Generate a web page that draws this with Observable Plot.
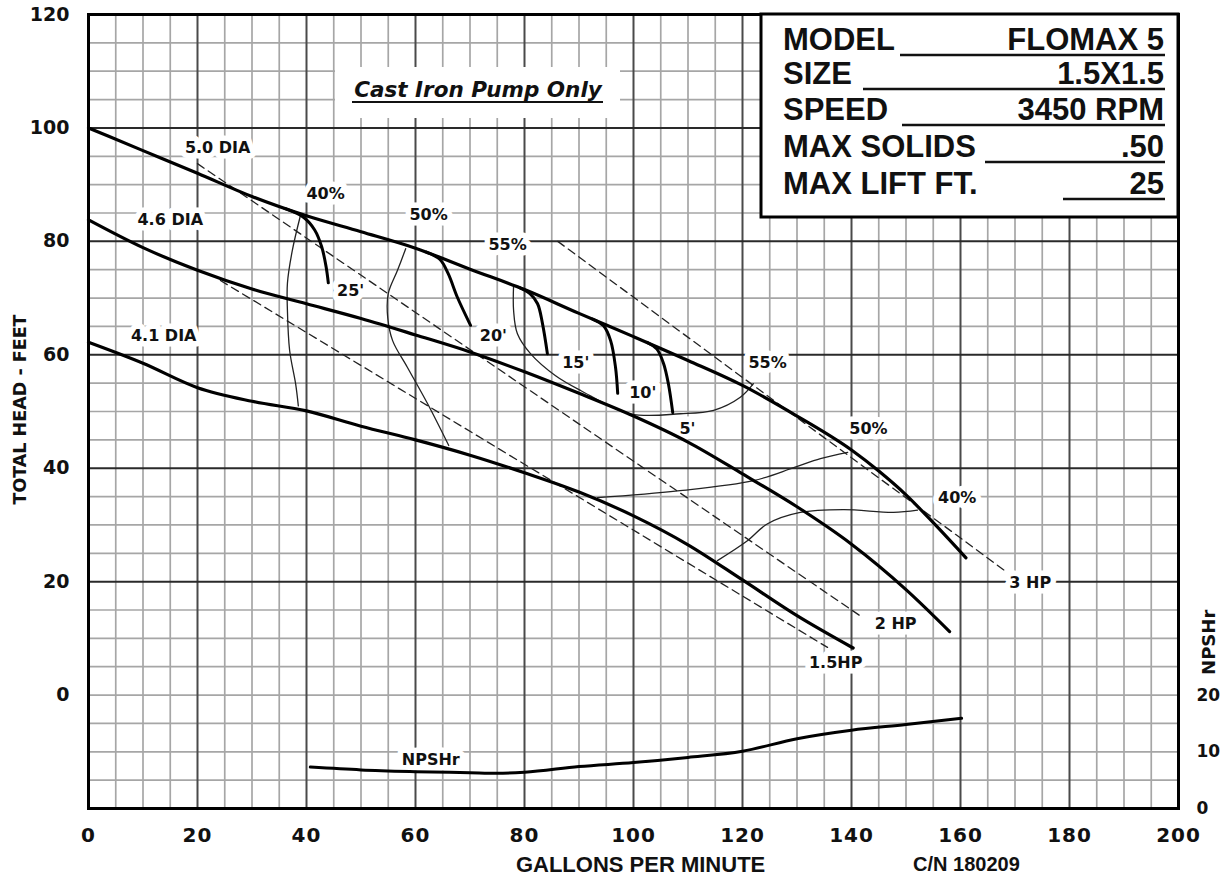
<!DOCTYPE html>
<html><head><meta charset="utf-8">
<script src="https://cdn.jsdelivr.net/npm/d3@7"></script>
<script src="https://cdn.jsdelivr.net/npm/@observablehq/plot@0.6"></script>
<style>
body{margin:0;background:#fff;}
#wrap{position:relative;width:1232px;height:879px;}
#wrap > svg{position:absolute;left:0;top:0;}
</style></head><body><div id="wrap"></div>
<script>
// ---- Impeller head curves (GPM vs total head, ft)
const dia50Gpm  = [0,10,20,30,40,50,60,70,80,90,100,110,120,130,140,145,150,155,161];
const dia50Head = [100,96,92,87.9,84.5,81.7,78.8,75.1,71.5,67.3,63.2,59.0,54.6,49.2,43.2,39.5,35.3,30.4,24.2];
const dia46Gpm  = [0,10,20,30,40,50,60,70,80,90,100,110,120,130,140,150,158];
const dia46Head = [83.8,78.9,74.9,71.6,69.0,66.4,63.5,60.5,57.0,53.2,49.2,44.6,39.0,33.2,26.6,18.6,11.2];
const dia41Gpm  = [0,10,20,30,40,50,60,70,80,90,100,110,120,130,140.3];
const dia41Head = [62.2,58.5,54.2,51.8,50.1,47.4,45.0,42.3,39.2,35.8,31.6,26.5,20.3,14.0,8.3];

// ---- NPSHr (ft, right axis)
const npshGpm = [40.7,50,60,70,75,80,90,100,110,120,130,140,150,160.2];
const npshFt  = [7.3,6.8,6.5,6.3,6.2,6.4,7.4,8.1,9.0,10.1,12.3,13.8,14.8,15.9];

// ---- Horsepower lines (dashed)
const hp3Gpm  = [86.1,168.6];  const hp3Head  = [80.0,21.6];
const hp2Gpm  = [20,142];      const hp2Head  = [93.7,13.7];
const hp15Gpm = [24.2,135.6];  const hp15Head = [73.1,8.4];

// ---- Efficiency contours (thin)
const eff40aGpm  = [38.9,37.4,36.5,36.5,36.9,38.0,38.5];
const eff40aHead = [84.6,78.4,72.6,67.8,60.8,54.9,51.0];
const eff50aGpm  = [58.2,56.7,55.0,54.9,55.8,58.5,62.2,66.1];
const eff50aHead = [78.7,74.9,70.8,66.6,62.5,57.8,51.4,44.0];
const eff55Gpm   = [78.0,78.0,78.7,81.1,85.7,90.3,99.4,108.6,114.7,119.6,122.0];
const eff55Head  = [72.3,67.8,63.7,60.2,56.3,53.7,49.6,49.6,50.2,52.5,54.9];
const eff50bGpm  = [93.4,108.1,122.0,129.4,134.3,139.3];
const eff50bHead = [34.8,36.0,37.8,40.1,41.7,42.8];
const eff40bGpm  = [115.4,120.9,124.6,130.6,138.5,147.7,152.1];
const eff40bHead = [23.7,27.2,30.2,32.2,32.7,32.2,32.6];

// ---- Suction lift hooks (thick)
const lift25Gpm = [36.0,39.5,41.5,42.8,43.6,44.0];  const lift25Head = [85.8,84.2,82.0,79.0,75.5,72.7];
const lift20Gpm = [62.0,64.5,66.0,67.7,70.1];       const lift20Head = [78.1,76.8,74.3,70.1,65.2];
const lift15Gpm = [79.0,81.0,82.4,83.3,84.2];       const lift15Head = [71.9,70.8,69.0,65.5,60.2];
const lift10Gpm = [92.5,94.5,95.8,96.7,97.1];       const lift10Head = [66.3,65.1,62.5,57.8,53.2];
const lift5Gpm  = [102.5,104.3,105.5,106.4,107.2];  const lift5Head  = [62.2,61.0,58.5,54.9,49.8];

// ---- Curve labels
const labelText = ["5.0 DIA","4.6 DIA","4.1 DIA","40%","25'","50%","55%","20'","15'","10'","5'","55%","50%","40%","3 HP","2 HP","1.5HP","NPSHr"];
const labelGpm  = [23.7,15.0,13.8,43.5,48.1,62.4,76.9,74.3,89.4,101.7,109.9,124.6,143.1,159.4,172.8,148.1,137.1,62.8];
const labelHead = [96.5,83.7,63.4,88.4,71.3,84.6,79.3,63.4,58.5,53.3,47.0,58.5,47.0,34.8,19.7,12.6,5.6,-11.5];

// ---- Axis ticks
const xTicks = [0,20,40,60,80,100,120,140,160,180,200];
const yTicks = [0,20,40,60,80,100,120];
const npshTicks = [0,10,20];
const infoLabels = ["MODEL","SIZE","SPEED","MAX SOLIDS","MAX LIFT FT."];
const infoValues = ["FLOMAX 5","1.5X1.5","3450 RPM",".50","25"];

const zip = (xs, ys, id) => xs.map((x, i) => ({x, y: ys[i], id}));
const mainCurves = [...zip(dia50Gpm, dia50Head, "5.0"), ...zip(dia46Gpm, dia46Head, "4.6"), ...zip(dia41Gpm, dia41Head, "4.1")];
const npsh = zip(npshGpm, npshFt.map(v => v - 20), "npsh"); // right axis: NPSHr 0 = head -20
const hpLines = [...zip(hp3Gpm, hp3Head, "3"), ...zip(hp2Gpm, hp2Head, "2"), ...zip(hp15Gpm, hp15Head, "1.5")];
const effLines = [...zip(eff40aGpm, eff40aHead, "40a"), ...zip(eff50aGpm, eff50aHead, "50a"), ...zip(eff55Gpm, eff55Head, "55"),
                  ...zip(eff50bGpm, eff50bHead, "50b"), ...zip(eff40bGpm, eff40bHead, "40b")];
const liftLines = [...zip(lift25Gpm, lift25Head, "25"), ...zip(lift20Gpm, lift20Head, "20"), ...zip(lift15Gpm, lift15Head, "15"),
                   ...zip(lift10Gpm, lift10Head, "10"), ...zip(lift5Gpm, lift5Head, "5")];
const labels = labelText.map((t, i) => ({t, x: labelGpm[i], y: labelHead[i]}));

const minorX = d3.range(5, 200, 5).filter(v => v % 20 !== 0);
const majorX = d3.range(20, 200, 20);
const minorY = d3.range(-15, 120, 5).filter(v => v % 20 !== 0 || v === 0);
const majorY = d3.range(20, 120, 20);

const F = "DejaVu Sans";
const chart = Plot.plot({
  width: 1232, height: 879,
  marginLeft: 88, marginRight: 54, marginTop: 14, marginBottom: 71,
  x: {domain: [0, 200]},
  y: {domain: [-20, 120]},
  style: {fontFamily: F, fontWeight: "bold", color: "#111", background: "white"},
  marks: [
    Plot.ruleX(minorX, {stroke: "#a6a6a6", strokeWidth: 1.7}),
    Plot.ruleY(minorY, {stroke: "#a6a6a6", strokeWidth: 1.7}),
    Plot.ruleX(majorX, {stroke: "#4a4a4a", strokeWidth: 2}),
    Plot.ruleY(majorY, {stroke: "#2a2a2a", strokeWidth: 2}),
    Plot.text(labels, {x: "x", y: "y", text: "t", fontSize: 16, fontFamily: F, fontWeight: "bold", fill: "white", stroke: "white", strokeWidth: 11}),
    Plot.line(hpLines, {x: "x", y: "y", z: "id", stroke: "#222", strokeWidth: 1.3, strokeDasharray: "8,5"}),
    Plot.line(effLines, {x: "x", y: "y", z: "id", stroke: "#222", strokeWidth: 1.3, curve: "catmull-rom"}),
    Plot.line(mainCurves, {x: "x", y: "y", z: "id", stroke: "black", strokeWidth: 3.2, curve: "monotone-x"}),
    Plot.line(liftLines, {x: "x", y: "y", z: "id", stroke: "black", strokeWidth: 3, curve: "catmull-rom"}),
    Plot.line(npsh, {x: "x", y: "y", stroke: "black", strokeWidth: 3, curve: "monotone-x"}),
    Plot.text(labels, {x: "x", y: "y", text: "t", fontSize: 16, fontFamily: F, fontWeight: "bold", fill: "#111"}),
    Plot.frame({stroke: "black", strokeWidth: 3}),
    Plot.axisX({ticks: xTicks, tickSize: 0, tickPadding: 19, fontSize: 20, fontWeight: "bold", label: null}),
    Plot.axisY({ticks: yTicks, tickSize: 0, tickPadding: 19, fontSize: 19, fontWeight: "bold", label: null}),
    Plot.axisY({anchor: "right", ticks: npshTicks.map(v => v - 20), tickFormat: d => String(d + 20), tickSize: 0, tickPadding: 18, fontSize: 17, fontWeight: "bold", label: null}),
    Plot.text(["TOTAL HEAD - FEET"], {x: 0, y: 50.35, dx: -68.5, rotate: -90, fontSize: 17.5, fontFamily: F, fontWeight: "bold"}),
    Plot.text(["NPSHr"], {x: 200, y: 9.3, dx: 31, rotate: -90, fontSize: 18, fontFamily: F, fontWeight: "bold"}),
    Plot.text(["GALLONS PER MINUTE"], {x: 101.3, y: -20, dy: 56, fontSize: 22, fontFamily: "Liberation Sans", fontWeight: "bold"}),
    Plot.text(["C/N 180209"], {x: 161.1, y: -20, dy: 56, fontSize: 20, fontFamily: "Liberation Sans", fontWeight: "bold"})
  ]
});
d3.select(chart).selectAll('g[aria-label="x-axis tick label"] text').attr("letter-spacing", 1);
const wrap = document.getElementById("wrap");
wrap.appendChild(chart);

// ---- Overlay: info box and note
const ov = d3.create("svg").attr("width", 1232).attr("height", 879).style("pointer-events", "none");
ov.append("rect").attr("x", 335).attr("y", 67).attr("width", 285).attr("height", 51).attr("fill", "white");
ov.append("text").attr("x", 478).attr("y", 97).attr("text-anchor", "middle")
  .attr("font-family", F).attr("font-weight", "bold").attr("font-style", "italic").attr("font-size", 21.5).attr("fill", "#111")
  .text("Cast Iron Pump Only");
ov.append("line").attr("x1", 352).attr("x2", 603).attr("y1", 102).attr("y2", 102).attr("stroke", "#111").attr("stroke-width", 2);

ov.append("rect").attr("x", 761).attr("y", 14).attr("width", 417).attr("height", 203)
  .attr("fill", "white").attr("stroke", "black").attr("stroke-width", 3);
const rowBase = [50, 84, 120, 157, 194];
const ulStart = [900, 863, 902, 985, 1063];
infoLabels.forEach((lab, i) => {
  ov.append("text").attr("x", 783).attr("y", rowBase[i]).attr("font-family", "Liberation Sans").attr("font-weight", "bold")
    .attr("font-size", 31).attr("fill", "#111").text(lab);
  ov.append("text").attr("x", 1164).attr("y", rowBase[i]).attr("text-anchor", "end").attr("font-family", "Liberation Sans")
    .attr("font-weight", "bold").attr("font-size", 31).attr("fill", "#111").text(infoValues[i]);
  ov.append("line").attr("x1", ulStart[i]).attr("x2", 1165).attr("y1", rowBase[i] + 5).attr("y2", rowBase[i] + 5)
    .attr("stroke", "#111").attr("stroke-width", 2.5);
});
wrap.appendChild(ov.node());
</script></body></html>
